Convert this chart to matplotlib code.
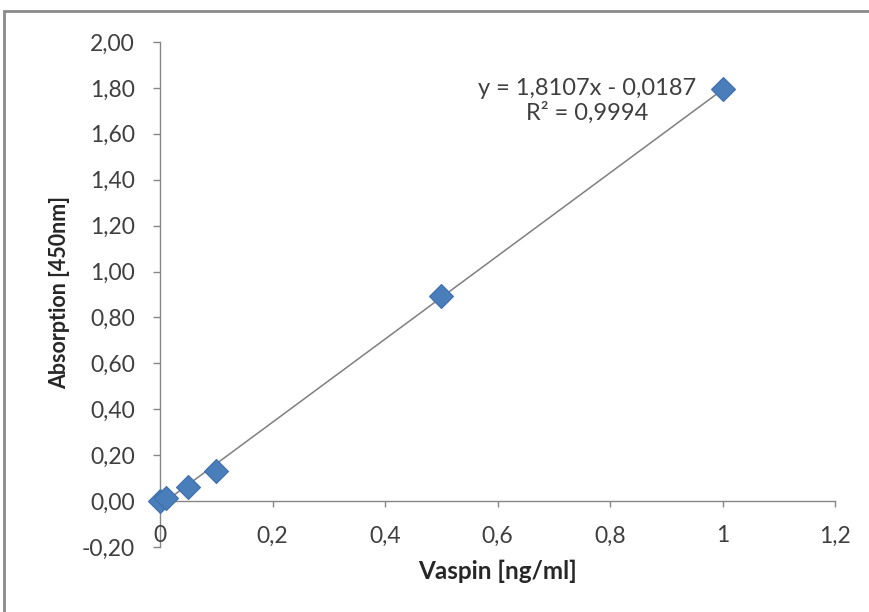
import matplotlib
matplotlib.use("Agg")
import matplotlib.pyplot as plt
from matplotlib.patches import Rectangle
from matplotlib.ticker import FixedLocator, NullFormatter

plt.rcParams['font.family'] = ['Lato', 'DejaVu Sans']

# Data
conc = [0.0, 0.01, 0.05, 0.1, 0.5, 1.0]
absorb = [0.0, 0.015, 0.06, 0.13, 0.895, 1.795]
slope = 1.8107
intercept = -0.0187
r2 = 0.9994
fit_x = [0.0, 1.0]
x_ticks = [0, 0.2, 0.4, 0.6, 0.8, 1.0, 1.2]
x_tick_labels = ['0', '0,2', '0,4', '0,6', '0,8', '1', '1,2']
y_ticks = [-0.2, 0.0, 0.2, 0.4, 0.6, 0.8, 1.0, 1.2, 1.4, 1.6, 1.8, 2.0]
y_tick_labels = ['-0,20', '0,00', '0,20', '0,40', '0,60', '0,80', '1,00',
                 '1,20', '1,40', '1,60', '1,80', '2,00']

W, H = 869, 612
fig = plt.figure(figsize=(W / 100, H / 100), dpi=100)
fig.patch.set_facecolor('white')

# outer chart frame (cropped at right and bottom)
fig.patches.append(Rectangle((4 / W, -0.1), 1.2, 1.1 - 11 / H, transform=fig.transFigure,
                             fill=False, edgecolor='#8a8a8a', linewidth=2))

ax = fig.add_axes([160 / W, 1 - 547 / H, 675 / W, 505 / H])
ax.set_xlim(0, 1.2)
ax.set_ylim(-0.2, 2.0)
ax.patch.set_alpha(0)

axis_col = '#868686'
tick_col = '#3f3f3f'
for s in ['top', 'right']:
    ax.spines[s].set_visible(False)
ax.spines['left'].set_position(('data', 0))
ax.spines['bottom'].set_position(('data', 0))
ax.spines['left'].set_color(axis_col)
ax.spines['bottom'].set_color(axis_col)
ax.spines['left'].set_linewidth(1)
ax.spines['bottom'].set_linewidth(1)

ax.yaxis.set_major_locator(FixedLocator(y_ticks))
ax.set_yticklabels(y_tick_labels)
ax.tick_params(axis='y', direction='out', length=5, width=1, color=axis_col,
               labelsize=16.5, labelcolor=tick_col, pad=13)

ax.xaxis.set_major_locator(FixedLocator(x_ticks))
ax.xaxis.set_major_formatter(NullFormatter())
ax.tick_params(axis='x', direction='out', length=4, width=1, color=axis_col)

for v, lab in zip(x_ticks, x_tick_labels):
    ax.annotate(lab, xy=(v, 0), xycoords=('data', 'axes fraction'),
                xytext=(0, 8), textcoords='offset points',
                ha='center', va='center', fontsize=16.5, color=tick_col,
                annotation_clip=False)

# trendline
fit_y = [slope * x + intercept for x in fit_x]
ax.plot(fit_x, fit_y, color='#7f7f7f', linewidth=1.1, zorder=2)

# data points
ax.plot(conc, absorb, linestyle='none', marker='D', markersize=12,
        markerfacecolor='#4a7ebb', markeredgecolor='#3d6fae', markeredgewidth=0.8,
        zorder=3, clip_on=False)

eq = f"y = {slope:.4f}x - {abs(intercept):.4f}".replace('.', ',')
r2t = f"R² = {r2:.4f}".replace('.', ',')
ax.text(0.76, 1.745, eq + "\n" + r2t, ha='center', va='center', fontsize=17,
        color=tick_col, linespacing=1.15)

fig.text(498 / W, 1 - 571 / H, 'Vaspin [ng/ml]', ha='center', va='center',
         fontsize=17.5, fontweight='bold', color='#262626')
fig.text(60 / W, 1 - 292 / H, 'Absorption [450nm]', ha='center', va='center',
         rotation=90, fontsize=15.5, fontweight='bold', color='#262626')

fig.savefig('out.png', dpi=100)
